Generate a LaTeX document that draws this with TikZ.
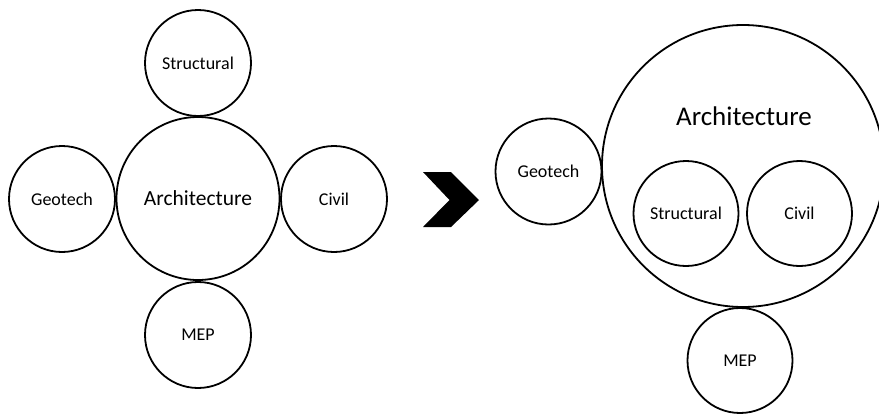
\documentclass[tikz,border=0pt]{standalone}
\usepackage{fontspec}
\setmainfont{Carlito}
\begin{document}
\begin{tikzpicture}[x=1pt,y=-1pt,
  bubble/.style={circle,draw=black,line width=1.8pt,inner sep=0pt,font=\fontsize{18}{20}\selectfont},
  chev/.style={fill=black,draw=none}]
\useasboundingbox (0,0) rectangle (879,416);
% left group
\node[bubble,minimum size=163pt,font=\fontsize{21.5}{24}\selectfont] (arch) at (198,198.5) {Architecture};
\node[bubble,minimum size=106pt] (struct) at (198,63) {Structural};
\node[bubble,minimum size=106pt] (geo) at (62,199) {Geotech};
\node[bubble,minimum size=106pt] (civil) at (334,199) {Civil};
\node[bubble,minimum size=106pt] (mep) at (198,335) {MEP};
% chevron
\coordinate (c1) at (423,172);
\coordinate (c2) at (451,172);
\coordinate (c3) at (479,200);
\coordinate (c4) at (451,227);
\coordinate (c5) at (423,227);
\coordinate (c6) at (449.5,200);
\fill[chev] (c1) -- (c2) -- (c3) -- (c4) -- (c5) -- (c6) -- cycle;
% right group
\node[bubble,minimum size=282pt] (archR) at (743,166) {};
\node[font=\fontsize{27}{30}\selectfont,inner sep=0pt] (archRtext) at (744,116) {Architecture};
\node[bubble,minimum size=106pt] (geoR) at (548.5,171.5) {Geotech};
\node[bubble,minimum size=105pt] (structR) at (686,213.5) {Structural};
\node[bubble,minimum size=105pt] (civilR) at (799.5,213.5) {Civil};
\node[bubble,minimum size=105pt] (mepR) at (740,360.5) {MEP};
\end{tikzpicture}
\end{document}
